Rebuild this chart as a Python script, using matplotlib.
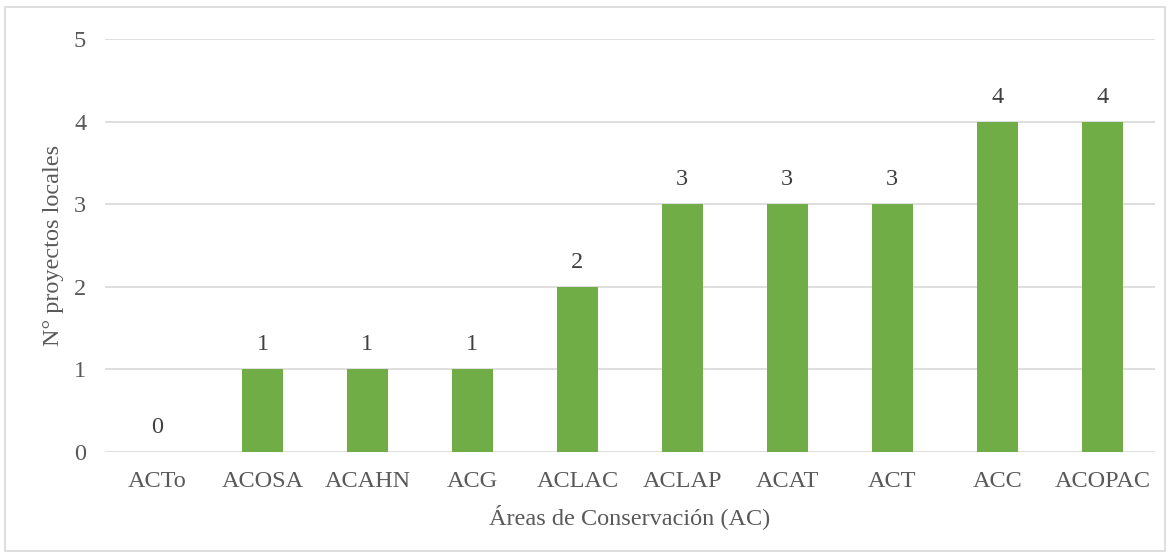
import matplotlib.pyplot as plt
from matplotlib.patches import Rectangle

areas = ['ACTo', 'ACOSA', 'ACAHN', 'ACG', 'ACLAC', 'ACLAP', 'ACAT', 'ACT', 'ACC', 'ACOPAC']
proyectos = [0, 1, 1, 1, 2, 3, 3, 3, 4, 4]

plt.rcParams['font.family'] = ['Liberation Serif', 'DejaVu Serif']
txt = '#595959'
fs = 17.5

fig = plt.figure(figsize=(11.7, 5.54), dpi=100)
ax = fig.add_axes([0.0897, 0.184, 0.8973, 0.7456])

x = range(len(areas))
ax.bar(x, proyectos, width=0.39, color='#70AD47', zorder=3)
for i, v in zip(x, proyectos):
    ax.text(i, v + 0.17, str(v), ha='center', va='bottom', fontsize=fs, color='#404040')

ax.set_xlim(-0.5, len(areas) - 0.5)
ax.set_ylim(0, 5)
ax.set_yticks(range(6))
ax.grid(axis='y', color='#D9D9D9', linewidth=1.2, zorder=0)
ax.set_xticks(list(x))
ax.set_xticklabels(areas)
ax.tick_params(length=0, labelsize=fs, labelcolor=txt)
ax.tick_params(axis='x', pad=13.5)
ax.tick_params(axis='y', pad=13.5)
for s in ax.spines.values():
    s.set_visible(False)

ax.set_xlabel('Áreas de Conservación (AC)', fontsize=fs, color=txt, labelpad=8.5)
ax.set_ylabel('N° proyectos locales', fontsize=fs, color=txt, labelpad=7)

fig.patches.append(Rectangle((0.004, 0.006), 0.992, 0.982, transform=fig.transFigure,
                             fill=False, edgecolor='#D9D9D9', linewidth=1.2))

fig.savefig('out.png', dpi=100)
